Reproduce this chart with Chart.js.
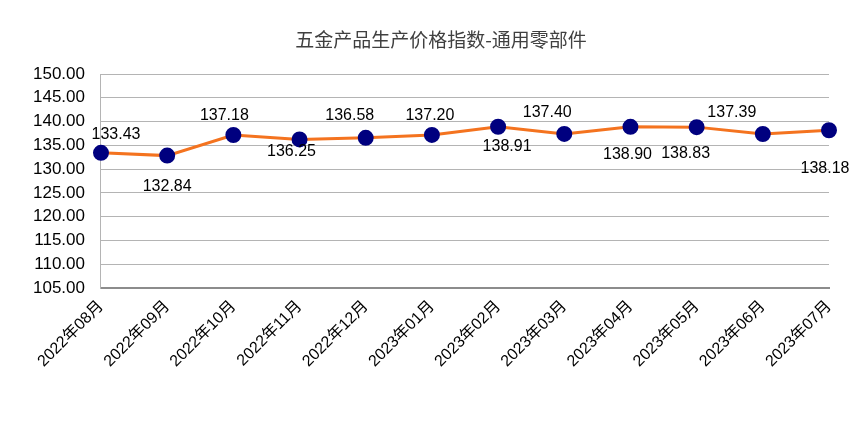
<!DOCTYPE html>
<html>
<head>
<meta charset="utf-8">
<script src="https://cdn.jsdelivr.net/npm/chart.js@4"></script>
<style>
  html, body { margin: 0; padding: 0; background: #fff; }
  #wrap { width: 867px; height: 423px; }
</style>
</head>
<body>
<div id="wrap"><canvas id="chart"></canvas></div>
<script>
const chartTitle = "五金产品生产价格指数-通用零部件";
const months = ["2022年08月", "2022年09月", "2022年10月", "2022年11月", "2022年12月", "2023年01月",
                "2023年02月", "2023年03月", "2023年04月", "2023年05月", "2023年06月", "2023年07月"];
const pointValues = [133.43, 132.84, 137.18, 136.25, 136.58, 137.20, 138.91, 137.40, 138.90, 138.83, 137.39, 138.18];
const valueLabels = ["133.43", "132.84", "137.18", "136.25", "136.58", "137.20",
                     "138.91", "137.40", "138.90", "138.83", "137.39", "138.18"];

// where each value label sits relative to its point (px)
const labelOffsets = [[15, -18], [0, 31], [-9, -19], [-8, 12], [-16, -22], [-2, -19],
                      [9, 20], [-17, -21], [-3, 28], [-11, 26], [-31, -21], [-4, 38]];

const LATIN = "'Liberation Sans', Arial, 'Noto Sans CJK SC', sans-serif";

const valueLabelPlugin = {
  id: "valueLabels",
  afterDatasetsDraw(chart) {
    const meta = chart.getDatasetMeta(0);
    const ctx = chart.ctx;
    ctx.save();
    ctx.font = "16px " + LATIN;
    ctx.fillStyle = "#000";
    ctx.textAlign = "center";
    ctx.textBaseline = "middle";
    meta.data.forEach((pt, i) => {
      const [dx, dy] = labelOffsets[i];
      ctx.fillText(valueLabels[i], pt.x + dx, pt.y + dy);
    });

    // title sits a bit right of the canvas centre in the original
    ctx.font = "19px 'Noto Sans CJK SC', sans-serif";
    ctx.fillStyle = "#404040";
    ctx.fillText(chartTitle, 441, 40);
    ctx.restore();
  },
};

new Chart(document.getElementById("chart"), {
  type: "line",
  data: {
    labels: months,
    datasets: [{
      data: pointValues,
      borderColor: "#f4731f",
      borderWidth: 3,
      pointRadius: 6.5,
      pointHoverRadius: 6.5,
      pointBackgroundColor: "#00007f",
      pointBorderColor: "#00007f",
      tension: 0,
      clip: false,
    }],
  },
  options: {
    responsive: true,
    maintainAspectRatio: false,
    animation: false,
    layout: { padding: { left: 17, right: 38, top: 74, bottom: 43 } },
    plugins: {
      legend: { display: false },
      tooltip: { enabled: false },
      title: { display: false },
    },
    scales: {
      x: {
        offset: false,
        grid: { display: false, drawTicks: false },
        border: { display: true, color: "#8c8c8c", width: 2 },
        ticks: {
          color: "#000",
          font: { family: LATIN, size: 16 },
          minRotation: 45,
          maxRotation: 45,
          padding: 9,
          autoSkip: false,
        },
      },
      y: {
        min: 105,
        max: 150,
        grid: { color: "#b4b4b4", lineWidth: 1, drawTicks: false },
        border: { display: true, color: "#b4b4b4", width: 1 },
        ticks: {
          stepSize: 5,
          color: "#000",
          font: { family: LATIN, size: 17 },
          padding: 16,
          callback: (v) => v.toFixed(2),
        },
      },
    },
  },
  plugins: [valueLabelPlugin],
});
</script>
</body>
</html>
